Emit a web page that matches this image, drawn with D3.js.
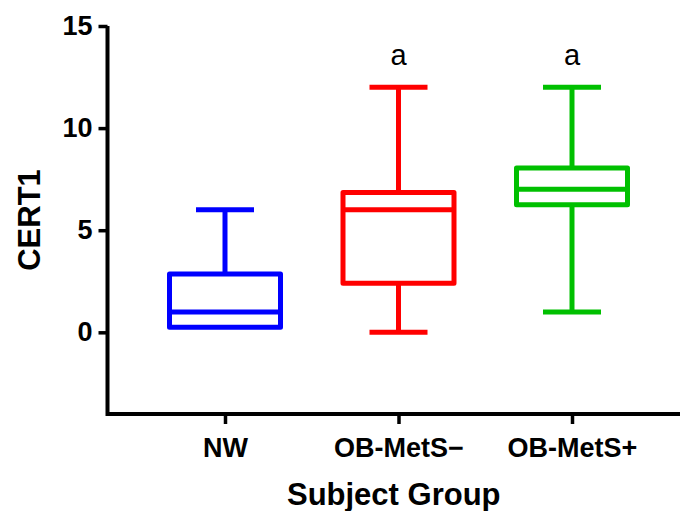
<!doctype html>
<html>
<head>
<style>
    body { margin: 0; background: #fff; }
    text { font-family: "Liberation Sans", Arial, sans-serif; }
    .axis text { font-size: 27px; font-weight: bold; fill: #000; }
    .axis line { stroke: #000; stroke-width: 3.5px; }
    .title { font-size: 31px; font-weight: bold; }
    .letter { font-size: 29px; }
</style>
<script src="https://d3js.org/d3.v7.min.js"></script>
</head>
<body>
<svg width="680" height="511"></svg>
<script>
    var groups = ["NW", "OB-MetS\u2212", "OB-MetS+"];
    var mins = [0.25, 0, 1];
    var q1s = [0.25, 2.4, 6.25];
    var medians = [1, 6, 7];
    var q3s = [2.85, 6.85, 8.05];
    var maxs = [6, 12, 12];
    var letters = ["", "a", "a"];
    var colors = ["#0000ff", "#ff0000", "#00c000"];
    var yTicks = [0, 5, 10, 15];

    var svg = d3.select("svg");

    var plotLeft = 107.5, plotRight = 680, plotTop = 26, plotBottom = 414;

    var x = d3.scalePoint().domain(groups).range([225, 572]);
    var y = d3.scaleLinear().domain([-4, 15]).range([plotBottom, plotTop]);

    var boxW = 111, capW = 58;

    var data = groups.map(function(g, i) {
        return { name: g, min: mins[i], q1: q1s[i], med: medians[i], q3: q3s[i], max: maxs[i], letter: letters[i], color: colors[i] };
    });

    // axes
    var xAxis = svg.append("g")
        .attr("class", "axis")
        .attr("transform", "translate(0," + plotBottom + ")")
        .call(d3.axisBottom(x).tickSize(10).tickPadding(14).tickSizeOuter(0));
    xAxis.select(".domain").remove();

    var yAxis = svg.append("g")
        .attr("class", "axis")
        .attr("transform", "translate(" + plotLeft + ",0)")
        .call(d3.axisLeft(y).tickValues(yTicks).tickSize(9).tickPadding(6));
    yAxis.select(".domain").remove();

    svg.append("path")
        .attr("d", "M" + plotLeft + "," + plotTop + "V" + plotBottom + "H" + plotRight)
        .attr("fill", "none")
        .attr("stroke", "#000")
        .attr("stroke-width", 4);

    // boxes
    var box = svg.append("g").selectAll("g")
        .data(data)
        .enter().append("g")
        .attr("stroke", function(d) { return d.color; })
        .attr("stroke-width", 5)
        .attr("fill", "none")
        .attr("stroke-linejoin", "round");

    box.append("line")
        .attr("x1", function(d) { return x(d.name); })
        .attr("x2", function(d) { return x(d.name); })
        .attr("y1", function(d) { return y(d.max); })
        .attr("y2", function(d) { return y(d.q3); });
    box.append("line")
        .attr("x1", function(d) { return x(d.name); })
        .attr("x2", function(d) { return x(d.name); })
        .attr("y1", function(d) { return y(d.q1); })
        .attr("y2", function(d) { return y(d.min); });
    box.filter(function(d) { return d.max > d.q3; }).append("line")
        .attr("x1", function(d) { return x(d.name) - capW / 2; })
        .attr("x2", function(d) { return x(d.name) + capW / 2; })
        .attr("y1", function(d) { return y(d.max); })
        .attr("y2", function(d) { return y(d.max); });
    box.filter(function(d) { return d.min < d.q1; }).append("line")
        .attr("x1", function(d) { return x(d.name) - capW / 2; })
        .attr("x2", function(d) { return x(d.name) + capW / 2; })
        .attr("y1", function(d) { return y(d.min); })
        .attr("y2", function(d) { return y(d.min); });
    box.append("rect")
        .attr("x", function(d) { return x(d.name) - boxW / 2; })
        .attr("width", boxW)
        .attr("y", function(d) { return y(d.q3); })
        .attr("height", function(d) { return y(d.q1) - y(d.q3); })
        .attr("fill", "#fff");
    box.append("line")
        .attr("x1", function(d) { return x(d.name) - boxW / 2; })
        .attr("x2", function(d) { return x(d.name) + boxW / 2; })
        .attr("y1", function(d) { return y(d.med); })
        .attr("y2", function(d) { return y(d.med); });

    // significance letters
    svg.append("g").selectAll("text")
        .data(data)
        .enter().append("text")
        .attr("class", "letter")
        .attr("text-anchor", "middle")
        .attr("x", function(d) { return x(d.name); })
        .attr("y", function(d) { return y(d.max) - 22; })
        .text(function(d) { return d.letter; });

    // titles
    svg.append("text")
        .attr("class", "title")
        .attr("text-anchor", "middle")
        .attr("x", (plotLeft + plotRight) / 2)
        .attr("y", 505)
        .text("Subject Group");

    svg.append("text")
        .attr("class", "title")
        .attr("text-anchor", "middle")
        .attr("transform", "translate(40," + (plotTop + plotBottom) / 2 + ") rotate(-90)")
        .text("CERT1");
</script>
</body>
</html>
